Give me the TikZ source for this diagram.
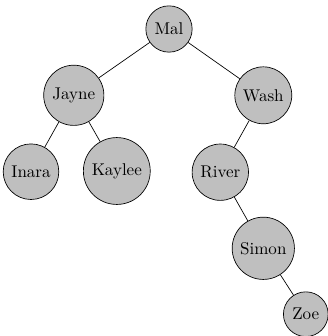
\documentclass[tikz,border=0pt]{standalone}
\begin{document}
\begin{tikzpicture}[x=0.588pt,y=-0.588pt,
  person/.style={circle,draw,fill=lightgray}]
\useasboundingbox (0,0) rectangle (327,336);
\node[person] (mal) at (169,29) {Mal};
\node[person] (jayne) at (73.8,95.3) {Jayne};
\node[person] (wash) at (263.3,95.3) {Wash};
\node[person] (inara) at (31,171.7) {Inara};
\node[person] (kaylee) at (116.8,171) {Kaylee};
\node[person] (river) at (220.3,172.2) {River};
\node[person] (simon) at (263.3,248.3) {Simon};
\node[person] (zoe) at (305.8,314.2) {Zoe};
\draw (mal) -- (jayne);
\draw (mal) -- (wash);
\draw (jayne) -- (inara);
\draw (jayne) -- (kaylee);
\draw (wash) -- (river);
\draw (river) -- (simon);
\draw (simon) -- (zoe);
\end{tikzpicture}
\end{document}
